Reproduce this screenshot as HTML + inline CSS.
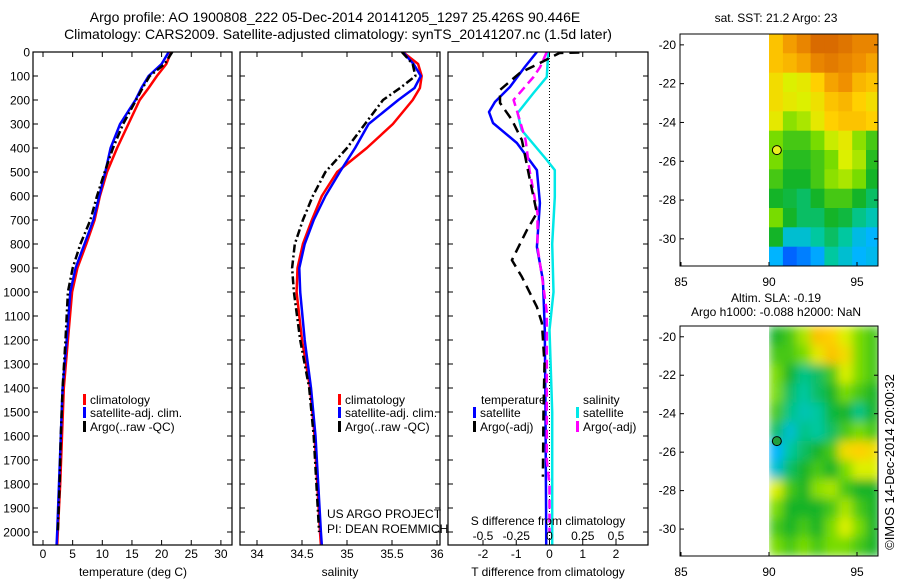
<!DOCTYPE html>
<html><head><meta charset="utf-8">
<style>
html,body{margin:0;padding:0;background:#fff;}
svg{display:block;font-family:"Liberation Sans",sans-serif;}
text{fill:#000;}
</style></head>
<body>
<svg id="chart" width="900" height="580" viewBox="0 0 900 580" xmlns="http://www.w3.org/2000/svg">
<defs>
<clipPath id="c1"><rect x="33" y="52" width="199" height="493"/></clipPath>
<clipPath id="c2"><rect x="240" y="52" width="200" height="493"/></clipPath>
<clipPath id="c3"><rect x="448" y="52" width="200" height="493"/></clipPath>
<clipPath id="cm1"><rect x="680" y="34" width="198" height="232"/></clipPath>
<clipPath id="cm2"><rect x="680" y="326" width="198" height="230"/></clipPath>
<filter id="blur" x="-10%" y="-10%" width="120%" height="120%"><feGaussianBlur stdDeviation="5"/></filter>
</defs>
<text x="335" y="22" font-size="14" text-anchor="middle">Argo profile: AO 1900808_222 05-Dec-2014 20141205_1297 25.426S 90.446E</text>
<text x="338" y="39" font-size="14" text-anchor="middle">Climatology: CARS2009. Satellite-adjusted climatology: synTS_20141207.nc (1.5d later)</text>
<g id="g1"></g>
<g id="g2"></g>
<g id="g3"></g>
<g id="m1"></g>
<g id="m2"></g>
<text transform="translate(894,462) rotate(-90)" font-size="13" text-anchor="middle">©IMOS 14-Dec-2014 20:00:32</text>
</svg>
<script>
// ---- data ----
const depths = [0,50,100,150,200,300,400,500,600,700,800,900,1000,1200,1400,1600,1800,2000,2054];
const tempClim = [21.6,20.8,19.2,17.8,16.3,14.4,12.5,10.8,9.6,8.7,7.3,5.8,4.9,4.2,3.5,3.2,2.9,2.5,2.4];
const tempSat = [21.2,20.0,17.8,16.6,15.6,13.0,11.4,10.5,9.5,8.5,7.0,5.5,4.6,4.0,3.3,3.0,2.7,2.4,2.3];
const tempArgo = [21.8,20.5,18.0,16.8,15.7,13.5,11.8,10.4,9.1,8.0,6.3,5.0,4.2,3.8,3.3,3.0,2.8,2.5];
const salClim = [35.62,35.79,35.83,35.81,35.73,35.51,35.22,34.89,34.72,34.61,34.51,34.45,34.44,34.50,34.59,34.64,34.67,34.70,34.71];
const salSat = [35.62,35.74,35.82,35.75,35.57,35.24,35.09,34.92,34.76,34.63,34.53,34.47,34.48,34.53,34.60,34.65,34.68,34.71,34.72];
const salArgo = [35.61,35.73,35.76,35.59,35.40,35.20,35.00,34.76,34.62,34.51,34.42,34.39,34.41,34.48,34.58,34.63,34.66,34.69];
const tSatDepth = [0,62,146,208,250,296,379,492,629,812,950,1158,1500,2000,2054];
const tSatDiff = [-0.38,-0.74,-1.19,-1.64,-1.82,-1.7,-0.98,-0.38,-0.29,-0.38,-0.2,-0.14,-0.12,-0.1,-0.1];
const sSatDepth = [0,104,171,254,325,450,492,604,800,1000,1158,1500,2000,2054];
const sSatDiff = [-0.01,-0.02,-0.12,-0.24,-0.21,-0.02,0.04,0.04,0.02,0.03,0.0,0.02,0.02,0.02];
const sArgoDepth = [0,62,104,200,254,367,492,671,812,963,1083,1400,1700,1800,2000];
const sArgoDiff = [-0.02,-0.07,-0.12,-0.27,-0.24,-0.18,-0.15,-0.09,-0.09,-0.05,-0.02,-0.02,-0.02,0,0];
const tArgoDepth = [2,4,46,87,158,212,283,367,533,671,742,867,937,1062,1129,1300,1500,1770];
const tArgoDiff = [0.9,0.3,-0.29,-0.89,-1.49,-1.49,-1.13,-0.83,-0.59,-0.38,-0.68,-1.13,-0.83,-0.38,-0.23,-0.15,-0.18,-0.2];
const depthTicks = [0,100,200,300,400,500,600,700,800,900,1000,1100,1200,1300,1400,1500,1600,1700,1800,1900,2000];
const tempTicks = [0,5,10,15,20,25,30];
const salTicks = [34,34.5,35,35.5,36];
const tDiffTicks = [-2,-1,0,1,2];
const sDiffTicks = [-0.5,-0.25,0,0.25,0.5];
const sstGrid = [
[.8,.86,.9,.95,.95,.93,.9,.9],
[.8,.82,.85,.9,.92,.9,.88,.85],
[.75,.7,.72,.78,.85,.88,.82,.8],
[.75,.72,.7,.74,.8,.82,.78,.75],
[.72,.62,.65,.72,.78,.8,.8,.78],
[.6,.55,.55,.6,.68,.72,.62,.55],
[.6,.52,.52,.55,.6,.7,.65,.52],
[.55,.5,.5,.55,.62,.65,.6,.5],
[.5,.48,.45,.5,.55,.55,.5,.45],
[.6,.5,.45,.45,.5,.48,.42,.38],
[.5,.35,.35,.4,.45,.4,.33,.3],
[.3,.18,.22,.28,.4,.35,.3,.32]];
const slaGrid = [
[.5,.55,.65,.8,.78,.7,.6,.55],
[.55,.55,.6,.72,.8,.75,.6,.55],
[.6,.5,.42,.45,.55,.7,.6,.55],
[.6,.45,.4,.45,.5,.6,.55,.5],
[.55,.42,.38,.4,.48,.5,.42,.5],
[.45,.35,.42,.4,.45,.55,.6,.55],
[.3,.4,.45,.5,.55,.75,.78,.75],
[.35,.45,.5,.55,.5,.6,.7,.7],
[.7,.55,.5,.62,.65,.55,.5,.5],
[.6,.5,.5,.5,.55,.65,.55,.5],
[.55,.5,.55,.5,.6,.7,.6,.5],
[.6,.55,.6,.55,.6,.6,.55,.5]];
const lonTicks = [85,90,95];
const latTicks = [-20,-22,-24,-26,-28,-30];
const argoLon = 90.446, argoLat = -25.426;

// ---- helpers ----
const NS = "http://www.w3.org/2000/svg";
function mk(parent, tag, attrs){ const e=document.createElementNS(NS,tag); for(const k in attrs) e.setAttribute(k,attrs[k]); parent.appendChild(e); return e; }
const yD = d => 52 + d*0.24;
const xT = v => 43 + v*5.93;
const xS = v => 257 + (v-34)*90;
const xTd = v => 549.5 + v*33.25;
const xSd = v => 549.5 + v*133;

function line(g, xs, ds, fx, color, dash, name){
  const pts = xs.map((v,i)=>fx(v).toFixed(1)+","+yD(ds[i]).toFixed(1)).join(" ");
  const p = mk(g,"polyline",{points:pts,fill:"none",stroke:color,"stroke-width":2.5,"stroke-linejoin":"round"});
  if(dash) p.setAttribute("stroke-dasharray",dash);
  
  
}
function frame(g,x0,x1,showLabels){
  mk(g,"rect",{x:x0,y:52,width:x1-x0,height:493,fill:"none",stroke:"#000","stroke-width":1.2});
  depthTicks.forEach(d=>{
    const y=yD(d);
    mk(g,"line",{x1:x0,y1:y,x2:x0+5,y2:y,stroke:"#000"});
    mk(g,"line",{x1:x1,y1:y,x2:x1-5,y2:y,stroke:"#000"});
    if(showLabels){
      const t=mk(g,"text",{x:x0-3,y:y+4.5,"font-size":12,"text-anchor":"end"}); t.textContent=d;
      
      
    }
  });
}
function xticks(g,ticks,fx,ylab,fmt){
  ticks.forEach(v=>{
    const x=fx(v);
    mk(g,"line",{x1:x,y1:52,x2:x,y2:57,stroke:"#000"});
    mk(g,"line",{x1:x,y1:545,x2:x,y2:540,stroke:"#000"});
    const t=mk(g,"text",{x:x,y:ylab,"font-size":12,"text-anchor":"middle"}); t.textContent=fmt?fmt(v):v;
    
    
  });
}
function txt(g,x,y,s,name,anchor,size){
  const t=mk(g,"text",{x:x,y:y,"font-size":size||12,"text-anchor":anchor||"start"}); t.textContent=s;
  
  
  return t;
}
function legendItem(g,x,y,color,label,name){
  const r=mk(g,"rect",{x:x,y:y-10,width:3,height:11,fill:color});
  
  
  txt(g,x+7,y,label,name);
}

// ---- panel 1 ----
const g1=document.getElementById("g1");
const c1=mk(g1,"g",{"clip-path":"url(#c1)"});
line(c1,tempClim,depths,xT,"#ff0000",null,"temp-climatology-line");
line(c1,tempSat,depths,xT,"#0000ff",null,"temp-satellite-line");
line(c1,tempArgo,depths.slice(0,tempArgo.length),xT,"#000000","8,3,2,3","temp-argo-line");
frame(g1,33,232,true);
xticks(g1,tempTicks,xT,558);
txt(g1,133,576,"temperature (deg C)","temp-x-axis-title","middle");
legendItem(g1,83,404,"#ff0000","climatology","legend-climatology");
legendItem(g1,83,417,"#0000ff","satellite-adj. clim.","legend-satellite");
legendItem(g1,83,431,"#000000","Argo(..raw -QC)","legend-argo");

// ---- panel 2 ----
const g2=document.getElementById("g2");
const c2=mk(g2,"g",{"clip-path":"url(#c2)"});
line(c2,salClim,depths,xS,"#ff0000",null,"sal-climatology-line");
line(c2,salSat,depths,xS,"#0000ff",null,"sal-satellite-line");
line(c2,salArgo,depths.slice(0,salArgo.length),xS,"#000000","8,3,2,3","sal-argo-line");
frame(g2,240,440,false);
xticks(g2,salTicks,xS,558);
txt(g2,340,576,"salinity","sal-x-axis-title","middle");
legendItem(g2,338,404,"#ff0000","climatology","legend-climatology");
legendItem(g2,338,417,"#0000ff","satellite-adj. clim.","legend-satellite");
legendItem(g2,338,431,"#000000","Argo(..raw -QC)","legend-argo");
txt(g2,327,518,"US ARGO PROJECT","project-credit");
txt(g2,327,533,"PI: DEAN ROEMMICH","pi-credit");

// ---- panel 3 ----
const g3=document.getElementById("g3");
const c3=mk(g3,"g",{"clip-path":"url(#c3)"});
mk(c3,"line",{x1:xTd(0),y1:52,x2:xTd(0),y2:545,stroke:"#000","stroke-dasharray":"1,2"});
line(c3,sSatDiff,sSatDepth,xSd,"#00e8e8",null,"s-satellite-diff-line");
line(c3,tSatDiff,tSatDepth,xTd,"#0000ff",null,"t-satellite-diff-line");
line(c3,sArgoDiff,sArgoDepth,xSd,"#ff00ff","9,5","s-argo-diff-line");
line(c3,tArgoDiff,tArgoDepth,xTd,"#000000","10,6","t-argo-diff-line");
frame(g3,448,648,false);
xticks(g3,tDiffTicks,xTd,558);
sDiffTicks.forEach(v=>txt(g3,xSd(v),540,String(v),"s-tick-label","middle"));
txt(g3,548,525,"S difference from climatology","s-axis-title","middle");
txt(g3,548,576,"T difference from climatology","t-axis-title","middle");
txt(g3,481,404,"temperature","legend-temperature-header");
txt(g3,583,404,"salinity","legend-salinity-header");
legendItem(g3,473,417,"#0000ff","satellite","legend-t-satellite");
legendItem(g3,473,431,"#000000","Argo(-adj)","legend-t-argo");
legendItem(g3,576,417,"#00e8e8","satellite","legend-s-satellite");
legendItem(g3,576,431,"#ff00ff","Argo(-adj)","legend-s-argo");

// ---- maps ----
const stops=[[0,[0,0,160]],[.15,[0,80,255]],[.3,[0,180,255]],[.4,[0,200,160]],[.5,[20,180,40]],[.6,[120,220,0]],[.7,[220,240,0]],[.78,[255,208,0]],[.88,[240,144,0]],[1,[200,80,0]]];
function cmap(v){
  for(let i=1;i<stops.length;i++){ if(v<=stops[i][0]){ const a=stops[i-1],b=stops[i],f=(v-a[0])/(b[0]-a[0]); return "rgb("+a[1].map((c,j)=>Math.round(c+(b[1][j]-c)*f)).join(",")+")"; } }
  return "rgb(200,80,0)";
}
function drawMap(id,grid,top,bottom,clip,blur,dotColor,title){
  const g=document.getElementById(id);
  const xL=lon=>681+(lon-85)*17.6;
  const latScale=(bottom-top)/11.96;
  const yL=lat=>top+(-19.44-lat)*latScale;
  const cg=mk(g,"g",{"clip-path":"url(#"+clip+")"});
  const ig=mk(cg,"g",blur?{filter:"url(#blur)"}:{});
  const lon0=90,lon1=96.3,lat0=-19.44,lat1=-31.4;
  const nr=grid.length,nc=grid[0].length;
  const dl=(lon1-lon0)/nc, dt=(lat0-lat1)/nr;
  grid.forEach((row,r)=>row.forEach((v,c)=>{
    const x=xL(lon0+c*dl), y=yL(lat0-r*dt);
    const cell=mk(ig,"rect",{x:x.toFixed(1),y:y.toFixed(1),width:(dl*17.6+0.6).toFixed(1),height:(latScale*dt+0.6).toFixed(1),fill:cmap(v)});
    
    
  }));
  if(blur){
    mk(cg,"rect",{x:680,y:top,width:xL(90)-680,height:bottom-top,fill:"#fff"});
  }
  mk(g,"rect",{x:680,y:top,width:198,height:bottom-top,fill:"none",stroke:"#000","stroke-width":1});
  lonTicks.forEach(l=>{ const x=xL(l); mk(g,"line",{x1:x,y1:bottom,x2:x,y2:bottom-4,stroke:"#000"}); txt(g,x,bottom+20,String(l),"map-lon-label","middle"); });
  latTicks.forEach(l=>{ const y=yL(l); mk(g,"line",{x1:680,y1:y,x2:684,y2:y,stroke:"#000"}); mk(g,"line",{x1:878,y1:y,x2:874,y2:y,stroke:"#000"}); txt(g,676,y+4,String(l),"map-lat-label","end"); });
  const dot=mk(g,"circle",{cx:xL(argoLon),cy:yL(argoLat),r:4.5,fill:dotColor,stroke:"#000","stroke-width":1});
  
  
  title.forEach(t=>txt(g,776,t[1],t[0],"map-title","middle"));
}
drawMap("m1",sstGrid,34,266,"cm1",false,"#e8f020",[["sat. SST: 21.2 Argo: 23",22]]);
drawMap("m2",slaGrid,326,556,"cm2",true,"#20a040",[["Altim. SLA: -0.19",302],["Argo h1000: -0.088 h2000: NaN",316]]);
</script>
</body></html>
